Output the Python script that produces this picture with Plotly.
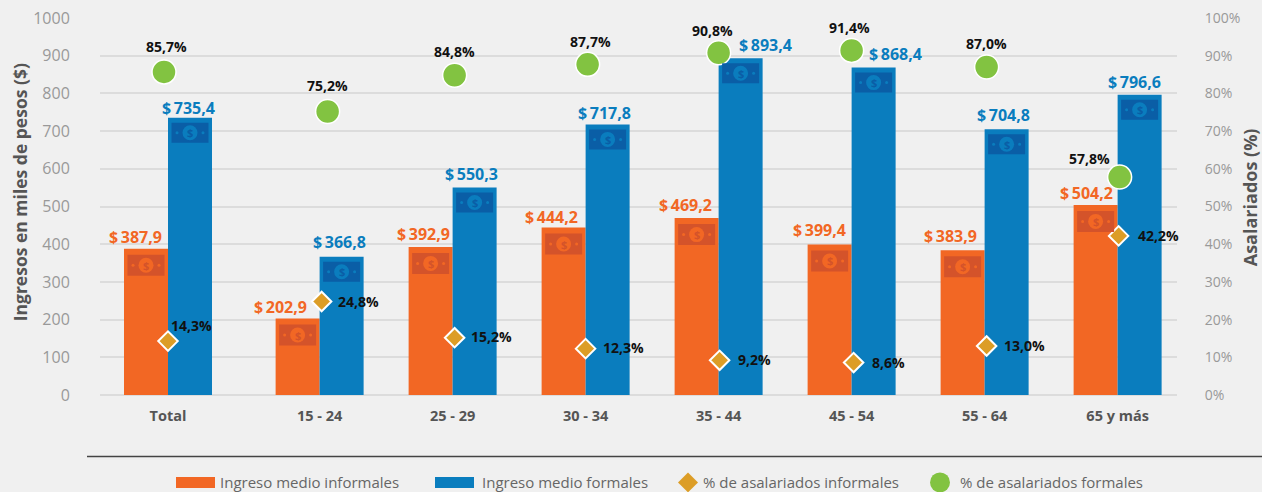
import plotly.graph_objects as go

categories = ["Total", "15 - 24", "25 - 29", "30 - 34", "35 - 44", "45 - 54", "55 - 64", "65 y más"]
ingreso_informales = [387.9, 202.9, 392.9, 444.2, 469.2, 399.4, 383.9, 504.2]
ingreso_formales = [735.4, 366.8, 550.3, 717.8, 893.4, 868.4, 704.8, 796.6]
pct_informales = [14.3, 24.8, 15.2, 12.3, 9.2, 8.6, 13.0, 42.2]
pct_formales = [85.7, 75.2, 84.8, 87.7, 90.8, 91.4, 87.0, 57.8]

# layout helpers (pixels)
L, R, T, B = 100, 1177, 17.5, 395
W, H = 1262, 492
UNIT = 133.0
first_gap = 0.14
xpos = [0.0] + [i + first_gap for i in range(1, len(categories))]
BAR_PX = 44
ORANGE = "#f26724"; BLUE = "#0a7dbe"; GREEN = "#82c341"; GOLD = "#dc9d26"
FONT = "Open Sans"

def px_x(p): return (p - L) / (R - L)
def px_y(p): return (B - p) / (B - T)
def fmt(v, pre="", suf=""): return f"{pre}{v:.1f}".replace(".", ",") + suf

green_dx = [-4, 8, 2, 2, 0, 0, 2, 2]
gold_dx = [0, 2, 2, 0, 1, 2, 2, 1]
orange_lbl = [(-33, 11.6), (-39, 11.4), (-29, 12.7), (-34, 10.3), (-33, 12.9), (-32, 14.2), (-34, 14), (-31.5, 11.7)]
blue_lbl = [(20.5, 9.4), (20, 14.5), (19, 13.3), (19, 11), (47, 12.7), (44, 13.2), (19, 14), (17, 12.3)]
green_lbl = [(2, 25), (0, 26), (0, 24), (3, 23), (-6, 22), (-2, 23), (0, 24), (-30, 19)]
gold_lbl = [(23, 16), (36.5, 0), (37, 1), (38, 1), (35, 1), (35, 0), (38, 0), (40, 0)]

fig = go.Figure()
fig.add_bar(x=xpos, y=ingreso_informales, name="Ingreso medio informales", marker_color=ORANGE, marker_line_width=0)
fig.add_bar(x=xpos, y=ingreso_formales, name="Ingreso medio formales", marker_color=BLUE, marker_line_width=0)
fig.add_scatter(x=[x + d / UNIT for x, d in zip(xpos, gold_dx)], y=pct_informales, yaxis="y2", mode="markers",
                name="% de asalariados informales",
                marker=dict(symbol="diamond", size=15, color=GOLD, line=dict(color="white", width=2)))
fig.add_scatter(x=[x + d / UNIT for x, d in zip(xpos, green_dx)], y=pct_formales, yaxis="y2", mode="markers",
                name="% de asalariados formales",
                marker=dict(symbol="circle", size=24, color=GREEN, line=dict(color="white", width=1.5)))

ann = []
shapes = []

def bill(x, v, cx_off, top, hgt, dark, mid):
    ky = dict(xref="x", yref="y", xsizemode="pixel", ysizemode="pixel", xanchor=x, yanchor=v, layer="above", line_width=0)
    cy = -(top + hgt / 2)
    shapes.append(dict(type="rect", x0=cx_off - 18.5, x1=cx_off + 18.5, y0=-(top + hgt), y1=-top, fillcolor=dark, **ky))
    shapes.append(dict(type="circle", x0=cx_off - 7.5, x1=cx_off + 7.5, y0=cy - 7.5, y1=cy + 7.5, fillcolor=mid, **ky))
    for s in (-13, 13):
        shapes.append(dict(type="circle", x0=cx_off + s - 1.5, x1=cx_off + s + 1.5, y0=cy - 1.5, y1=cy + 1.5, fillcolor=mid, **ky))
    ann.append(dict(x=x, y=v, xref="x", yref="y", xshift=cx_off, yshift=cy, text="$", showarrow=False,
                    font=dict(family=FONT, size=11, color=dark, weight=700), xanchor="center", yanchor="middle"))

for i, x in enumerate(xpos):
    bill(x, ingreso_informales[i], -BAR_PX / 2, 6, 21, "#d4532a", ORANGE)
    bill(x, ingreso_formales[i], BAR_PX / 2, 5, 20, "#0a5ea6", BLUE)
    ann.append(dict(x=x, y=ingreso_informales[i], xref="x", yref="y", xshift=orange_lbl[i][0], yshift=orange_lbl[i][1],
                    text=fmt(ingreso_informales[i], "$\u2009"), showarrow=False,
                    font=dict(family=FONT, size=16, color=ORANGE, weight=700), xanchor="center", yanchor="middle"))
    ann.append(dict(x=x, y=ingreso_formales[i], xref="x", yref="y", xshift=blue_lbl[i][0], yshift=blue_lbl[i][1],
                    text=fmt(ingreso_formales[i], "$\u2009"), showarrow=False,
                    font=dict(family=FONT, size=16, color=BLUE, weight=700), xanchor="center", yanchor="middle"))
    ann.append(dict(x=x + green_dx[i] / UNIT, y=pct_formales[i], xref="x", yref="y2",
                    xshift=green_lbl[i][0], yshift=green_lbl[i][1], text=fmt(pct_formales[i], suf="%"), showarrow=False,
                    font=dict(family=FONT, size=14, color="#111111", weight=700), xanchor="center", yanchor="middle"))
    ann.append(dict(x=x + gold_dx[i] / UNIT, y=pct_informales[i], xref="x", yref="y2",
                    xshift=gold_lbl[i][0], yshift=gold_lbl[i][1], text=fmt(pct_informales[i], suf="%"), showarrow=False,
                    font=dict(family=FONT, size=14, color="#111111", weight=700), xanchor="center", yanchor="middle"))

# axis titles
ann.append(dict(x=px_x(20), y=px_y(192), xref="paper", yref="paper", text="Ingresos en miles de pesos ($)", textangle=-90,
                showarrow=False, xanchor="center", yanchor="middle", font=dict(family=FONT, size=17.5, color="#555555", weight=700)))
ann.append(dict(x=px_x(1250), y=px_y(197), xref="paper", yref="paper", text="Asalariados (%)", textangle=-90,
                showarrow=False, xanchor="center", yanchor="middle", font=dict(family=FONT, size=18, color="#555555", weight=700)))

# bottom rule and legend
shapes.append(dict(type="line", xref="paper", yref="paper", x0=px_x(87), x1=px_x(1262), y0=px_y(456.5), y1=px_y(456.5),
                   line=dict(color="#444444", width=1.5)))
LEG_Y = 482.5
shapes.append(dict(type="rect", xref="paper", yref="paper", x0=px_x(176), x1=px_x(215), y0=px_y(477), y1=px_y(488),
                   fillcolor=ORANGE, line_width=0))
shapes.append(dict(type="rect", xref="paper", yref="paper", x0=px_x(435), x1=px_x(474), y0=px_y(477), y1=px_y(488),
                   fillcolor=BLUE, line_width=0))
dx, dy = 688, LEG_Y
shapes.append(dict(type="path", xref="paper", yref="paper", fillcolor=GOLD, line_width=0,
                   path=f"M {px_x(dx-10)},{px_y(dy)} L {px_x(dx)},{px_y(dy-10)} L {px_x(dx+10)},{px_y(dy)} L {px_x(dx)},{px_y(dy+10)} Z"))
shapes.append(dict(type="circle", xref="paper", yref="paper", fillcolor=GREEN, line_width=0,
                   x0=px_x(930), x1=px_x(950), y0=px_y(LEG_Y + 10), y1=px_y(LEG_Y - 10)))
for xt, t in [(220, "Ingreso medio informales"), (482, "Ingreso medio formales"),
              (703, "% de asalariados informales"), (960, "% de asalariados formales")]:
    ann.append(dict(x=px_x(xt), y=px_y(LEG_Y), xref="paper", yref="paper", text=t, showarrow=False, xanchor="left",
                    yanchor="middle", xshift=-2, font=dict(family=FONT, size=15, color="#666666")))

fig.update_layout(
    width=W, height=H, autosize=False,
    margin=dict(l=L, r=W - R, t=T, b=H - B, pad=0, autoexpand=False),
    paper_bgcolor="#f0f0f0", plot_bgcolor="#f0f0f0",
    showlegend=False, barmode="group", bargap=1 - 2 * BAR_PX / UNIT, bargroupgap=0,
    font=dict(family=FONT),
    xaxis=dict(range=[(L - 168) / UNIT, (R - 168) / UNIT], tickmode="array", tickvals=xpos, ticktext=categories,
               showgrid=False, zeroline=False, showline=False, ticks="outside", ticklen=8, tickcolor="rgba(0,0,0,0)",
               tickfont=dict(family=FONT, size=14.5, color="#555555", weight=700)),
    yaxis=dict(range=[0, 1000], dtick=100, showgrid=True, gridcolor="#dcdcdc", gridwidth=2, zeroline=True,
               zerolinecolor="#dcdcdc", zerolinewidth=2, showline=False, ticks="outside", ticklen=26,
               tickcolor="rgba(0,0,0,0)", tickfont=dict(family=FONT, size=16, color="#999999")),
    yaxis2=dict(range=[0, 100], dtick=10, overlaying="y", side="right", showgrid=False, zeroline=False, showline=False,
                ticks="outside", ticklen=24, tickcolor="rgba(0,0,0,0)", ticksuffix="%",
                tickfont=dict(family=FONT, size=14, color="#999999")),
    annotations=ann, shapes=shapes,
)
fig.write_html("out.html", config=dict(displayModeBar=False),
               post_script="document.body.style.margin='0';document.body.style.background='#f0f0f0';")
